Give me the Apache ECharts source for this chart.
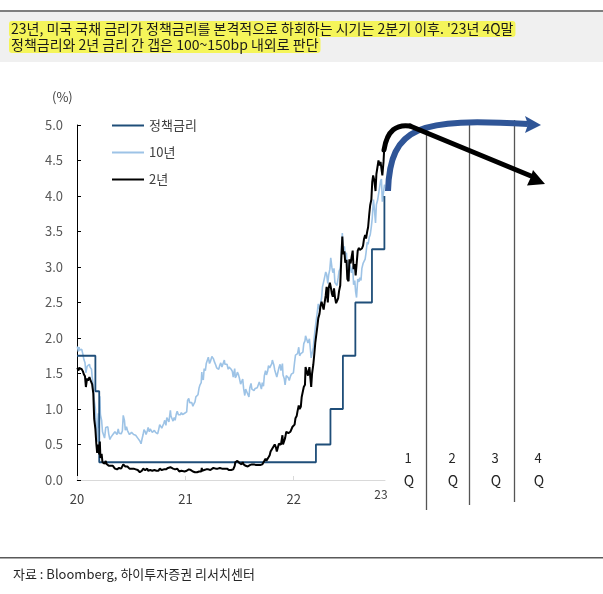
<!DOCTYPE html>
<html>
<head>
<meta charset="utf-8">
<script src="https://cdn.jsdelivr.net/npm/echarts@6/dist/echarts.min.js"></script>
<style>
html,body{margin:0;padding:0;background:#fff;}
#c{width:603px;height:594px;}
</style>
</head>
<body>
<div id="c"></div>
<script>
// ---- data ----
const seriesNames = ['정책금리', '10년', '2년'];
const yearLabels = {2020: '20', 2021: '21', 2022: '22'};
const extraYearLabel = '23';
const quarterLabels = ['1', '2', '3', '4'];
const titleLines = [
  "23년, 미국 국채 금리가 정책금리를 본격적으로 하회하는 시기는 2분기 이후. '23년 4Q말",
  "정책금리와 2년 금리 간 갭은 100~150bp 내외로 판단"
];
const sourceText = '자료 : Bloomberg, 하이투자증권 리서치센터';

// Fed funds target (upper bound), change dates
const policyRate = [
  ['2020-01-01',1.75],['2020-03-03',1.25],['2020-03-16',0.25],['2022-03-17',0.50],
  ['2022-05-05',1.00],['2022-06-16',1.75],['2022-07-28',2.50],['2022-09-22',3.25],
  ['2022-11-03',4.00],['2022-11-04',4.00]
];

// US 10Y yield
const y10 = [
  ['2020-01-02',1.88],['2020-01-06',1.81],['2020-01-08',1.87],['2020-01-10',1.83],['2020-01-14',1.81],['2020-01-17',1.84],
  ['2020-01-21',1.77],['2020-01-24',1.70],['2020-01-28',1.65],['2020-01-31',1.51],['2020-02-04',1.60],['2020-02-07',1.58],
  ['2020-02-12',1.63],['2020-02-14',1.59],['2020-02-19',1.56],['2020-02-21',1.46],['2020-02-25',1.33],['2020-02-28',1.13],
  ['2020-03-03',1.00],['2020-03-06',0.71],['2020-03-09',0.54],['2020-03-11',0.82],['2020-03-13',0.94],['2020-03-16',0.73],
  ['2020-03-18',1.18],['2020-03-20',0.92],['2020-03-24',0.84],['2020-03-27',0.68],['2020-03-31',0.70],['2020-04-03',0.59],
  ['2020-04-07',0.74],['2020-04-09',0.73],['2020-04-14',0.75],['2020-04-17',0.65],['2020-04-21',0.57],['2020-04-24',0.60],
  ['2020-04-28',0.61],['2020-05-01',0.64],['2020-05-05',0.66],['2020-05-08',0.68],['2020-05-12',0.68],['2020-05-15',0.64],
  ['2020-05-19',0.72],['2020-05-22',0.66],['2020-05-27',0.68],['2020-05-29',0.65],['2020-06-02',0.69],['2020-06-05',0.91],
  ['2020-06-09',0.84],['2020-06-12',0.70],['2020-06-16',0.75],['2020-06-19',0.70],['2020-06-23',0.71],['2020-06-26',0.64],
  ['2020-06-30',0.66],['2020-07-03',0.67],['2020-07-07',0.65],['2020-07-10',0.64],['2020-07-14',0.62],['2020-07-17',0.63],
  ['2020-07-21',0.61],['2020-07-24',0.59],['2020-07-28',0.58],['2020-07-31',0.55],['2020-08-04',0.51],['2020-08-07',0.57],
  ['2020-08-11',0.64],['2020-08-14',0.71],['2020-08-18',0.68],['2020-08-21',0.64],['2020-08-25',0.69],['2020-08-28',0.74],
  ['2020-09-01',0.68],['2020-09-04',0.72],['2020-09-09',0.70],['2020-09-11',0.67],['2020-09-15',0.68],['2020-09-18',0.70],
  ['2020-09-22',0.67],['2020-09-25',0.66],['2020-09-29',0.65],['2020-10-02',0.70],['2020-10-06',0.78],['2020-10-09',0.78],
  ['2020-10-13',0.73],['2020-10-16',0.75],['2020-10-20',0.80],['2020-10-23',0.84],['2020-10-27',0.77],['2020-10-30',0.88],
  ['2020-11-03',0.90],['2020-11-06',0.82],['2020-11-11',0.98],['2020-11-13',0.90],['2020-11-17',0.86],['2020-11-20',0.83],
  ['2020-11-24',0.88],['2020-11-27',0.84],['2020-12-01',0.93],['2020-12-04',0.97],['2020-12-08',0.92],['2020-12-11',0.90],
  ['2020-12-15',0.92],['2020-12-18',0.95],['2020-12-22',0.92],['2020-12-24',0.94],['2020-12-29',0.94],['2020-12-31',0.92],
  ['2021-01-05',0.96],['2021-01-08',1.12],['2021-01-12',1.15],['2021-01-15',1.09],['2021-01-19',1.09],['2021-01-22',1.09],
  ['2021-01-26',1.04],['2021-01-29',1.07],['2021-02-02',1.10],['2021-02-05',1.17],['2021-02-09',1.16],['2021-02-12',1.20],
  ['2021-02-16',1.30],['2021-02-19',1.34],['2021-02-23',1.37],['2021-02-25',1.52],['2021-02-26',1.44],['2021-03-02',1.41],
  ['2021-03-05',1.57],['2021-03-09',1.54],['2021-03-12',1.64],['2021-03-16',1.62],['2021-03-19',1.73],['2021-03-23',1.64],
  ['2021-03-26',1.67],['2021-03-31',1.74],['2021-04-05',1.71],['2021-04-09',1.66],['2021-04-13',1.62],['2021-04-16',1.58],
  ['2021-04-20',1.60],['2021-04-23',1.56],['2021-04-27',1.62],['2021-04-30',1.65],['2021-05-04',1.59],['2021-05-07',1.58],
  ['2021-05-12',1.69],['2021-05-14',1.63],['2021-05-18',1.64],['2021-05-21',1.63],['2021-05-25',1.56],['2021-05-28',1.59],
  ['2021-06-01',1.61],['2021-06-04',1.56],['2021-06-08',1.53],['2021-06-11',1.45],['2021-06-16',1.57],['2021-06-18',1.44],
  ['2021-06-22',1.47],['2021-06-25',1.52],['2021-06-29',1.48],['2021-07-02',1.43],['2021-07-06',1.35],['2021-07-09',1.36],
  ['2021-07-13',1.42],['2021-07-16',1.29],['2021-07-20',1.19],['2021-07-23',1.28],['2021-07-27',1.24],['2021-07-30',1.24],
  ['2021-08-03',1.17],['2021-08-06',1.30],['2021-08-10',1.36],['2021-08-13',1.28],['2021-08-17',1.26],['2021-08-20',1.26],
  ['2021-08-24',1.29],['2021-08-27',1.31],['2021-08-31',1.30],['2021-09-03',1.32],['2021-09-07',1.38],['2021-09-10',1.34],
  ['2021-09-14',1.28],['2021-09-17',1.37],['2021-09-21',1.32],['2021-09-24',1.47],['2021-09-28',1.54],['2021-10-01',1.48],
  ['2021-10-05',1.53],['2021-10-08',1.61],['2021-10-12',1.58],['2021-10-15',1.59],['2021-10-19',1.64],['2021-10-21',1.69],
  ['2021-10-26',1.62],['2021-10-29',1.55],['2021-11-02',1.55],['2021-11-05',1.45],['2021-11-09',1.44],['2021-11-12',1.58],
  ['2021-11-16',1.63],['2021-11-19',1.54],['2021-11-24',1.64],['2021-11-26',1.48],['2021-11-30',1.43],['2021-12-03',1.34],
  ['2021-12-07',1.47],['2021-12-10',1.48],['2021-12-14',1.44],['2021-12-17',1.40],['2021-12-21',1.46],['2021-12-24',1.49],
  ['2021-12-28',1.48],['2021-12-31',1.51],['2022-01-04',1.66],['2022-01-07',1.76],['2022-01-11',1.74],['2022-01-14',1.78],
  ['2022-01-18',1.87],['2022-01-21',1.75],['2022-01-25',1.78],['2022-01-28',1.77],['2022-02-01',1.80],['2022-02-04',1.92],
  ['2022-02-08',1.96],['2022-02-10',2.03],['2022-02-15',2.04],['2022-02-18',1.93],['2022-02-23',1.99],['2022-02-25',1.97],
  ['2022-03-01',1.72],['2022-03-04',1.73],['2022-03-08',1.86],['2022-03-11',2.00],['2022-03-15',2.15],['2022-03-18',2.14],
  ['2022-03-22',2.38],['2022-03-25',2.48],['2022-03-29',2.40],['2022-04-01',2.39],['2022-04-05',2.56],['2022-04-08',2.72],
  ['2022-04-12',2.72],['2022-04-14',2.83],['2022-04-19',2.93],['2022-04-22',2.90],['2022-04-26',2.77],['2022-04-29',2.89],
  ['2022-05-03',2.97],['2022-05-06',3.13],['2022-05-10',2.99],['2022-05-13',2.92],['2022-05-17',2.98],['2022-05-20',2.78],
  ['2022-05-24',2.76],['2022-05-27',2.74],['2022-05-31',2.85],['2022-06-03',2.94],['2022-06-07',2.98],['2022-06-10',3.16],
  ['2022-06-14',3.48],['2022-06-17',3.23],['2022-06-21',3.29],['2022-06-24',3.13],['2022-06-28',3.20],['2022-07-01',2.88],
  ['2022-07-05',2.81],['2022-07-08',3.08],['2022-07-12',2.96],['2022-07-15',2.92],['2022-07-19',3.01],['2022-07-22',2.75],
  ['2022-07-26',2.81],['2022-07-29',2.65],['2022-08-01',2.57],['2022-08-05',2.83],['2022-08-09',2.79],['2022-08-12',2.85],
  ['2022-08-16',2.81],['2022-08-19',2.98],['2022-08-23',3.05],['2022-08-26',3.04],['2022-08-30',3.11],['2022-09-02',3.20],
  ['2022-09-06',3.35],['2022-09-09',3.32],['2022-09-13',3.42],['2022-09-16',3.45],['2022-09-20',3.57],['2022-09-23',3.69],
  ['2022-09-27',3.95],['2022-09-30',3.83],['2022-10-04',3.62],['2022-10-07',3.88],['2022-10-11',3.94],['2022-10-14',4.02],
  ['2022-10-18',4.01],['2022-10-21',4.21],['2022-10-24',4.24],['2022-10-27',3.92],['2022-10-31',4.05],['2022-11-03',4.15],
  ['2022-11-04',4.16]
];

// US 2Y yield
const y2 = [
  ['2020-01-02',1.58],['2020-01-06',1.54],['2020-01-08',1.58],['2020-01-10',1.56],['2020-01-14',1.57],['2020-01-17',1.56],
  ['2020-01-21',1.53],['2020-01-24',1.49],['2020-01-28',1.46],['2020-01-31',1.31],['2020-02-04',1.43],['2020-02-07',1.40],
  ['2020-02-12',1.45],['2020-02-14',1.42],['2020-02-19',1.43],['2020-02-21',1.35],['2020-02-25',1.22],['2020-02-28',0.86],
  ['2020-03-03',0.72],['2020-03-06',0.52],['2020-03-09',0.38],['2020-03-11',0.50],['2020-03-13',0.49],['2020-03-16',0.36],
  ['2020-03-18',0.54],['2020-03-20',0.31],['2020-03-24',0.37],['2020-03-27',0.25],['2020-03-31',0.23],['2020-04-03',0.23],
  ['2020-04-07',0.27],['2020-04-09',0.23],['2020-04-14',0.22],['2020-04-17',0.20],['2020-04-21',0.20],['2020-04-24',0.20],
  ['2020-04-28',0.20],['2020-05-01',0.20],['2020-05-05',0.18],['2020-05-08',0.16],['2020-05-12',0.17],['2020-05-15',0.15],
  ['2020-05-19',0.17],['2020-05-22',0.17],['2020-05-27',0.17],['2020-05-29',0.16],['2020-06-02',0.18],['2020-06-05',0.22],
  ['2020-06-09',0.20],['2020-06-12',0.19],['2020-06-16',0.21],['2020-06-19',0.19],['2020-06-23',0.19],['2020-06-26',0.16],
  ['2020-06-30',0.16],['2020-07-03',0.16],['2020-07-07',0.15],['2020-07-10',0.16],['2020-07-14',0.16],['2020-07-17',0.15],
  ['2020-07-21',0.15],['2020-07-24',0.14],['2020-07-28',0.13],['2020-07-31',0.11],['2020-08-04',0.11],['2020-08-07',0.13],
  ['2020-08-11',0.16],['2020-08-14',0.15],['2020-08-18',0.14],['2020-08-21',0.14],['2020-08-25',0.16],['2020-08-28',0.13],
  ['2020-09-01',0.13],['2020-09-04',0.14],['2020-09-09',0.15],['2020-09-11',0.13],['2020-09-15',0.14],['2020-09-18',0.14],
  ['2020-09-22',0.14],['2020-09-25',0.13],['2020-09-29',0.13],['2020-10-02',0.13],['2020-10-06',0.16],['2020-10-09',0.15],
  ['2020-10-13',0.14],['2020-10-16',0.14],['2020-10-20',0.15],['2020-10-23',0.15],['2020-10-27',0.15],['2020-10-30',0.15],
  ['2020-11-03',0.17],['2020-11-06',0.15],['2020-11-11',0.18],['2020-11-13',0.18],['2020-11-17',0.17],['2020-11-20',0.16],
  ['2020-11-24',0.16],['2020-11-27',0.15],['2020-12-01',0.16],['2020-12-04',0.16],['2020-12-08',0.15],['2020-12-11',0.12],
  ['2020-12-15',0.12],['2020-12-18',0.13],['2020-12-22',0.12],['2020-12-24',0.12],['2020-12-29',0.12],['2020-12-31',0.12],
  ['2021-01-05',0.13],['2021-01-08',0.14],['2021-01-12',0.15],['2021-01-15',0.14],['2021-01-19',0.14],['2021-01-22',0.12],
  ['2021-01-26',0.12],['2021-01-29',0.11],['2021-02-02',0.11],['2021-02-05',0.10],['2021-02-09',0.11],['2021-02-12',0.11],
  ['2021-02-16',0.12],['2021-02-19',0.11],['2021-02-23',0.12],['2021-02-25',0.17],['2021-02-26',0.13],['2021-03-02',0.12],
  ['2021-03-05',0.14],['2021-03-09',0.16],['2021-03-12',0.15],['2021-03-16',0.15],['2021-03-19',0.15],['2021-03-23',0.14],
  ['2021-03-26',0.14],['2021-03-31',0.16],['2021-04-05',0.17],['2021-04-09',0.16],['2021-04-13',0.16],['2021-04-16',0.16],
  ['2021-04-20',0.16],['2021-04-23',0.17],['2021-04-27',0.17],['2021-04-30',0.16],['2021-05-04',0.16],['2021-05-07',0.15],
  ['2021-05-12',0.16],['2021-05-14',0.15],['2021-05-18',0.15],['2021-05-21',0.16],['2021-05-25',0.15],['2021-05-28',0.14],
  ['2021-06-01',0.14],['2021-06-04',0.14],['2021-06-08',0.15],['2021-06-11',0.15],['2021-06-16',0.20],['2021-06-18',0.25],
  ['2021-06-22',0.25],['2021-06-25',0.27],['2021-06-29',0.25],['2021-07-02',0.24],['2021-07-06',0.22],['2021-07-09',0.22],
  ['2021-07-13',0.25],['2021-07-16',0.22],['2021-07-20',0.20],['2021-07-23',0.20],['2021-07-27',0.20],['2021-07-30',0.19],
  ['2021-08-03',0.17],['2021-08-06',0.21],['2021-08-10',0.23],['2021-08-13',0.22],['2021-08-17',0.21],['2021-08-20',0.22],
  ['2021-08-24',0.23],['2021-08-27',0.21],['2021-08-31',0.21],['2021-09-03',0.21],['2021-09-07',0.22],['2021-09-10',0.21],
  ['2021-09-14',0.21],['2021-09-17',0.22],['2021-09-21',0.22],['2021-09-24',0.27],['2021-09-28',0.30],['2021-10-01',0.27],
  ['2021-10-05',0.28],['2021-10-08',0.32],['2021-10-12',0.35],['2021-10-15',0.40],['2021-10-19',0.40],['2021-10-22',0.45],
  ['2021-10-26',0.45],['2021-10-29',0.50],['2021-11-02',0.46],['2021-11-05',0.40],['2021-11-09',0.42],['2021-11-12',0.51],
  ['2021-11-16',0.52],['2021-11-19',0.50],['2021-11-24',0.63],['2021-11-26',0.50],['2021-11-30',0.52],['2021-12-03',0.59],
  ['2021-12-07',0.68],['2021-12-10',0.66],['2021-12-14',0.66],['2021-12-17',0.64],['2021-12-21',0.68],['2021-12-24',0.69],
  ['2021-12-28',0.75],['2021-12-31',0.73],['2022-01-04',0.78],['2022-01-07',0.87],['2022-01-11',0.90],['2022-01-14',0.97],
  ['2022-01-18',1.05],['2022-01-21',1.00],['2022-01-25',1.03],['2022-01-28',1.17],['2022-02-01',1.16],['2022-02-04',1.31],
  ['2022-02-08',1.34],['2022-02-10',1.59],['2022-02-15',1.58],['2022-02-18',1.47],['2022-02-23',1.59],['2022-02-25',1.57],
  ['2022-03-01',1.31],['2022-03-04',1.50],['2022-03-08',1.62],['2022-03-11',1.75],['2022-03-15',1.94],['2022-03-18',1.94],
  ['2022-03-22',2.17],['2022-03-25',2.28],['2022-03-29',2.34],['2022-04-01',2.44],['2022-04-05',2.51],['2022-04-08',2.52],
  ['2022-04-12',2.40],['2022-04-14',2.46],['2022-04-19',2.60],['2022-04-22',2.72],['2022-04-26',2.50],['2022-04-29',2.70],
  ['2022-05-03',2.78],['2022-05-06',2.72],['2022-05-10',2.62],['2022-05-13',2.58],['2022-05-17',2.70],['2022-05-20',2.58],
  ['2022-05-24',2.49],['2022-05-27',2.48],['2022-05-31',2.56],['2022-06-03',2.66],['2022-06-07',2.74],['2022-06-10',3.06],
  ['2022-06-14',3.43],['2022-06-17',3.18],['2022-06-21',3.22],['2022-06-24',3.06],['2022-06-28',3.10],['2022-07-01',2.83],
  ['2022-07-05',2.80],['2022-07-08',3.11],['2022-07-12',3.05],['2022-07-15',3.13],['2022-07-19',3.23],['2022-07-22',2.97],
  ['2022-07-26',3.04],['2022-07-29',2.88],['2022-08-01',2.90],['2022-08-05',3.23],['2022-08-09',3.27],['2022-08-12',3.24],
  ['2022-08-16',3.25],['2022-08-19',3.26],['2022-08-23',3.30],['2022-08-26',3.39],['2022-08-30',3.45],['2022-09-02',3.40],
  ['2022-09-06',3.50],['2022-09-09',3.56],['2022-09-13',3.75],['2022-09-16',3.87],['2022-09-20',3.95],['2022-09-23',4.20],
  ['2022-09-26',4.29],['2022-09-30',4.22],['2022-10-04',4.07],['2022-10-07',4.31],['2022-10-11',4.30],['2022-10-14',4.50],
  ['2022-10-18',4.43],['2022-10-21',4.48],['2022-10-24',4.47],['2022-10-27',4.29],['2022-10-31',4.48],['2022-11-03',4.72],
  ['2022-11-04',4.66]
];

// ---- chart ----
const chart = echarts.init(document.getElementById('c'), null, {renderer: 'canvas'});
const FONT = '"Noto Sans CJK KR", "Noto Sans", sans-serif';
const DAY = 86400000;
const tx = (text, x, y, size, color, align) => ({
  type: 'text', x: x, y: y,
  style: {text: text, font: size + 'px ' + FONT, fill: color, align: align || 'left', verticalAlign: 'middle'}
});

const option = {
  backgroundColor: '#ffffff',
  animation: false,
  textStyle: {fontFamily: FONT},
  grid: {left: 77, right: 218, top: 125, bottom: 114, containLabel: false},
  legend: {
    orient: 'vertical',
    left: 106,
    top: 114,
    itemWidth: 32,
    itemHeight: 14,
    itemGap: 14,
    data: seriesNames,
    itemStyle: {opacity: 0},
    textStyle: {fontSize: 13, color: '#404040', fontFamily: FONT}
  },
  xAxis: {
    type: 'time',
    min: '2020-01-01',
    max: '2022-11-05',
    minInterval: 365 * DAY,
    maxInterval: 366 * DAY,
    axisLine: {show: true, lineStyle: {color: '#d9d9d9', width: 1}},
    axisTick: {show: true, inside: true, length: 4, lineStyle: {color: '#d9d9d9'}},
    splitLine: {show: false},
    axisLabel: {
      fontSize: 13, color: '#404040', margin: 13, fontFamily: FONT,
      formatter: function (v) { const y = new Date(v).getFullYear(); return yearLabels[y] || ''; }
    }
  },
  yAxis: {
    type: 'value',
    min: 0, max: 5, interval: 0.5,
    axisLine: {show: true, lineStyle: {color: '#000000', width: 1}},
    axisTick: {show: true, inside: true, length: 4, lineStyle: {color: '#000000'}},
    splitLine: {show: false},
    axisLabel: {
      fontSize: 13, color: '#595959', margin: 14, fontFamily: FONT,
      formatter: function (v) { return v.toFixed(1); }
    }
  },
  series: [
    {
      name: seriesNames[1], type: 'line', data: y10, showSymbol: false, symbol: 'none',
      lineStyle: {color: '#9dc3e6', width: 1.6}, itemStyle: {color: '#9dc3e6'}, z: 2
    },
    {
      name: seriesNames[0], type: 'line', data: policyRate, step: 'end', showSymbol: false, symbol: 'none',
      lineStyle: {color: '#1f4e79', width: 1.8}, itemStyle: {color: '#1f4e79'}, z: 3
    },
    {
      name: seriesNames[2], type: 'line', data: y2, showSymbol: false, symbol: 'none',
      lineStyle: {color: '#000000', width: 2}, itemStyle: {color: '#000000'}, z: 4
    }
  ],
  graphic: [
    // header band
    {type: 'rect', shape: {x: 0, y: 10, width: 603, height: 2}, style: {fill: '#7f7f7f'}, silent: true},
    {type: 'rect', shape: {x: 0, y: 12, width: 603, height: 50}, style: {fill: '#f0f0f0'}, silent: true},
    {type: 'text', x: 9, y: 29, style: {text: titleLines[0], font: '14px ' + FONT, fill: '#1a1a1a',
      verticalAlign: 'middle', backgroundColor: '#f5f55a', padding: [1, 2, 1, 2], borderRadius: 3}},
    {type: 'text', x: 9, y: 45, style: {text: titleLines[1], font: '14px ' + FONT, fill: '#1a1a1a',
      verticalAlign: 'middle', backgroundColor: '#f5f55a', padding: [1, 2, 1, 2], borderRadius: 3}},
    // unit
    tx('(%)', 52, 97, 13, '#404040'),
    // extra year label
    tx(extraYearLabel, 381, 494, 12, '#404040', 'center'),
    // quarter dividers
    {type: 'line', shape: {x1: 426.5, y1: 125, x2: 426.5, y2: 510}, style: {stroke: '#555555', lineWidth: 1.3}},
    {type: 'line', shape: {x1: 469.5, y1: 121, x2: 469.5, y2: 505}, style: {stroke: '#555555', lineWidth: 1.3}},
    {type: 'line', shape: {x1: 514.5, y1: 120, x2: 514.5, y2: 502}, style: {stroke: '#555555', lineWidth: 1.3}},
    // quarter labels
    tx(quarterLabels[0], 408, 458, 13, '#262626', 'center'),
    tx('Q', 409, 481, 14, '#262626', 'center'),
    tx(quarterLabels[1], 452, 458, 13, '#262626', 'center'),
    tx('Q', 453, 481, 14, '#262626', 'center'),
    tx(quarterLabels[2], 495, 458, 13, '#262626', 'center'),
    tx('Q', 496, 481, 14, '#262626', 'center'),
    tx(quarterLabels[3], 538, 458, 13, '#262626', 'center'),
    tx('Q', 539, 481, 14, '#262626', 'center'),
    // blue (policy) arrow
    {type: 'bezierCurve', shape: {x1: 388, y1: 191, cpx1: 390, cpy1: 125, cpx2: 420, cpy2: 118, x2: 528, y2: 124},
      style: {stroke: '#2f5597', lineWidth: 6, fill: null}, z: 10},
    {type: 'polygon', shape: {points: [[541, 125], [525, 116], [528, 124.5], [525, 133]]}, style: {fill: '#2f5597'}, z: 10},
    // black (2Y) arrow
    {type: 'bezierCurve', shape: {x1: 384, y1: 150, cpx1: 387, cpy1: 130, cpx2: 397, cpy2: 124, x2: 410, y2: 126},
      style: {stroke: '#000000', lineWidth: 5, fill: null, lineCap: 'round'}, z: 11},
    {type: 'line', shape: {x1: 410, y1: 126, x2: 531, y2: 176},
      style: {stroke: '#000000', lineWidth: 5, lineCap: 'round'}, z: 11},
    {type: 'polygon', shape: {points: [[545, 184], [533, 170], [530.5, 178], [527, 185.5]]}, style: {fill: '#000000'}, z: 11},
    // footer
    {type: 'rect', shape: {x: 0, y: 557, width: 603, height: 1.5}, style: {fill: '#595959'}, silent: true},
    tx(sourceText, 13, 574, 13, '#262626')
  ]
};
chart.setOption(option);
</script>
</body>
</html>
